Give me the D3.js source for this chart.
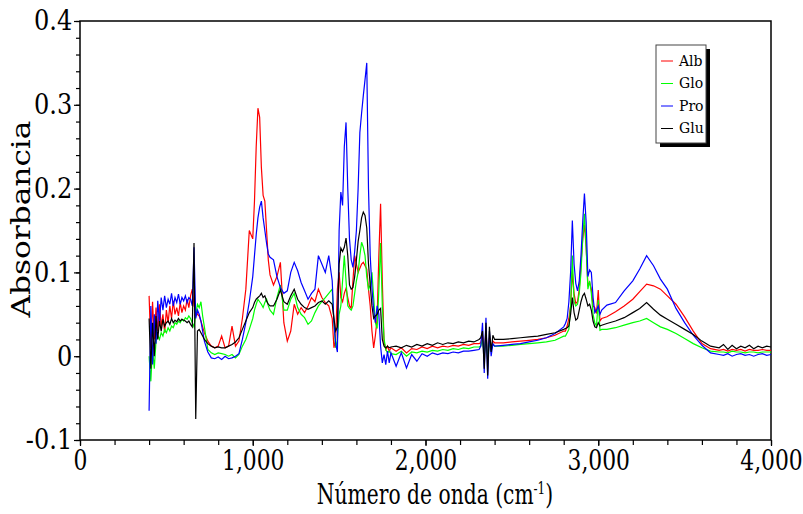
<!DOCTYPE html>
<html>
<head>
<meta charset="utf-8">
<script src="https://cdn.jsdelivr.net/npm/d3@7"></script>
<style>
  body { margin: 0; background: #fff; }
  text { font-family: "DejaVu Serif", serif; }
</style>
</head>
<body>
<svg id="chart"></svg>
<script>
// shared wavenumber grid (cm-1)
const wavenumber = [
  400,410,420,430,440,450,460,470,480,490,500,510,520,530,540,550,560,570,580,590,600,610,620,630,640,650,660,670,680,690,700,710,720,
  740,760,780,800,820,840,860,880,900,920,940,960,980,
  1000,1010,1020,1030,1040,1050,1060,1070,1080,1090,1100,
  1120,1140,1160,1180,1200,1220,1240,1260,1280,1300,1320,1340,1360,1380,1400,1420,1440,1460,
  1470,1480,1490,1500,1510,1520,1530,1540,1550,1560,1570,1580,1590,1600,1610,1620,1630,1640,1650,1660,1670,1680,1690,1700,1710,1720,1730,1740,1750,1760,1770,1780,1790,1800,
  1830,1860,1890,1920,1950,1980,2010,2040,2070,2100,2130,2160,2190,2220,2250,2280,2310,
  2320,2330,2340,2350,2360,2370,2380,2390,2400,
  2450,2500,2550,2600,2650,2700,2750,2800,
  2810,2820,2830,2840,2850,2860,2870,2880,2890,2900,2910,2920,2930,2940,2950,2960,2970,2980,2990,3000,3010,3020,
  3050,3100,3150,3200,3240,3280,3320,3360,3400,3450,3500,3550,3600,3650,3700,
  3725,3750,3775,3800,3825,3850,3875,3900,3925,3950,3975,4000
];

const alb = [
  0.072,0.010,0.065,0.020,0.058,0.030,0.062,0.035,0.050,0.028,0.055,0.040,0.060,0.045,0.066,0.050,0.058,0.048,0.064,0.052,0.060,0.055,0.068,0.058,0.072,0.080,0.060,0.055,0.050,0.048,0.042,0.035,0.028,
  0.018,0.012,0.010,0.012,0.024,0.010,0.012,0.036,0.012,0.018,0.045,0.080,0.150,
  0.140,0.185,0.250,0.296,0.285,0.225,0.192,0.185,0.150,0.115,0.097,
  0.085,0.095,0.112,0.040,0.018,0.030,0.062,0.050,0.058,0.052,0.060,0.070,0.065,0.080,0.070,0.064,0.060,0.045,
  0.010,0.020,0.080,0.100,0.070,0.065,0.075,0.081,0.070,0.060,0.057,0.090,0.120,0.110,0.100,0.105,0.110,0.112,0.108,0.104,0.080,0.060,0.030,0.010,0.025,0.045,0.120,0.182,0.090,0.017,0.008,0.012,0.006,0.010,
  0.006,0.010,0.004,0.009,0.008,0.011,0.009,0.012,0.010,0.012,0.011,0.013,0.012,0.014,0.013,0.015,0.015,
  0.016,0.025,0.000,0.030,-0.005,0.022,0.010,0.018,0.016,
  0.016,0.017,0.018,0.019,0.020,0.022,0.025,0.030,
  0.030,0.036,0.045,0.060,0.100,0.075,0.063,0.065,0.080,0.110,0.140,0.157,0.130,0.085,0.088,0.080,0.060,0.058,0.051,0.079,0.042,0.045,
  0.047,0.053,0.060,0.068,0.077,0.086,0.084,0.080,0.072,0.062,0.047,0.030,0.015,0.009,0.007,
  0.008,0.006,0.008,0.007,0.008,0.006,0.008,0.007,0.007,0.008,0.007,0.007
];

const glo = [
  0.000,-0.030,0.010,-0.015,0.018,0.025,0.020,0.028,0.024,0.032,0.028,0.034,0.030,0.036,0.034,0.040,0.038,0.042,0.040,0.044,0.042,0.046,0.044,0.048,0.045,0.040,0.035,0.050,0.062,0.058,0.065,0.048,0.035,
  0.008,0.004,0.002,0.004,0.003,0.002,0.000,0.002,-0.002,0.002,0.012,0.020,0.032,
  0.045,0.055,0.062,0.068,0.065,0.062,0.058,0.064,0.068,0.060,0.055,
  0.050,0.070,0.085,0.055,0.055,0.068,0.075,0.058,0.050,0.046,0.038,0.042,0.052,0.060,0.065,0.070,0.075,0.080,
  0.040,0.010,0.020,0.050,0.060,0.090,0.120,0.090,0.060,0.057,0.055,0.060,0.075,0.090,0.100,0.120,0.136,0.130,0.120,0.095,0.080,0.085,0.100,0.070,0.040,0.033,0.080,0.135,0.060,0.021,0.008,0.004,0.006,0.003,
  0.002,0.006,0.000,0.005,0.004,0.006,0.005,0.007,0.006,0.008,0.007,0.009,0.008,0.010,0.009,0.011,0.011,
  0.012,0.020,0.000,0.025,-0.005,0.018,0.006,0.014,0.012,
  0.012,0.013,0.014,0.015,0.016,0.017,0.019,0.024,
  0.024,0.028,0.032,0.060,0.120,0.065,0.060,0.062,0.075,0.100,0.140,0.170,0.130,0.080,0.090,0.075,0.050,0.040,0.036,0.067,0.031,0.032,
  0.032,0.034,0.037,0.040,0.042,0.045,0.040,0.035,0.032,0.027,0.021,0.015,0.010,0.006,0.005,
  0.005,0.004,0.006,0.005,0.005,0.004,0.005,0.005,0.004,0.005,0.005,0.005
];

const pro = [
  -0.065,0.060,-0.010,0.050,0.015,0.066,0.040,0.070,0.055,0.072,0.058,0.068,0.062,0.075,0.060,0.070,0.064,0.074,0.062,0.070,0.066,0.072,0.064,0.070,0.068,0.060,0.130,0.045,0.055,0.050,0.042,0.030,0.018,
  0.005,-0.002,-0.003,-0.001,-0.004,0.000,-0.003,-0.002,0.000,0.003,0.020,0.040,0.065,
  0.095,0.120,0.145,0.165,0.178,0.185,0.165,0.150,0.135,0.122,0.118,
  0.115,0.095,0.082,0.075,0.078,0.100,0.112,0.102,0.088,0.078,0.068,0.075,0.080,0.120,0.110,0.100,0.120,0.090,
  0.040,0.015,0.005,0.150,0.196,0.180,0.250,0.279,0.200,0.140,0.115,0.106,0.125,0.150,0.200,0.267,0.290,0.311,0.330,0.350,0.200,0.120,0.081,0.055,0.040,0.060,0.050,0.012,-0.008,0.002,-0.010,0.006,-0.008,0.004,
  -0.012,0.004,-0.014,0.002,-0.006,0.003,0.000,0.004,0.002,0.004,0.003,0.005,0.004,0.006,0.006,0.007,0.008,
  0.012,0.040,-0.020,0.046,-0.027,0.030,0.000,0.015,0.012,
  0.013,0.014,0.015,0.017,0.019,0.022,0.027,0.035,
  0.039,0.045,0.065,0.100,0.162,0.110,0.087,0.078,0.090,0.120,0.160,0.194,0.160,0.095,0.103,0.100,0.070,0.052,0.055,0.060,0.050,0.055,
  0.061,0.064,0.078,0.090,0.104,0.120,0.108,0.092,0.080,0.057,0.040,0.025,0.013,0.004,0.002,
  0.001,0.003,0.000,0.002,0.003,0.001,0.002,0.000,0.002,0.003,0.001,0.002
];

const glu = [
  0.045,-0.015,0.040,0.000,0.048,0.020,0.042,0.030,0.044,0.036,0.040,0.042,0.038,0.045,0.040,0.043,0.041,0.045,0.042,0.044,0.043,0.042,0.040,0.042,0.038,0.035,0.135,-0.075,0.030,0.032,0.028,0.024,0.020,
  0.015,0.012,0.010,0.011,0.010,0.010,0.012,0.014,0.017,0.022,0.032,0.042,0.052,
  0.058,0.064,0.068,0.070,0.072,0.075,0.070,0.072,0.066,0.062,0.060,
  0.060,0.068,0.079,0.065,0.062,0.072,0.080,0.068,0.062,0.058,0.056,0.058,0.060,0.064,0.066,0.062,0.066,0.062,
  0.045,0.030,0.035,0.110,0.129,0.125,0.130,0.141,0.120,0.085,0.080,0.082,0.095,0.115,0.137,0.150,0.165,0.172,0.168,0.153,0.110,0.085,0.060,0.045,0.048,0.050,0.055,0.057,0.020,0.012,0.010,0.012,0.010,0.011,
  0.012,0.010,0.013,0.011,0.014,0.012,0.015,0.013,0.016,0.014,0.016,0.015,0.017,0.016,0.018,0.017,0.020,
  0.022,0.030,-0.015,0.040,-0.023,0.035,0.005,0.025,0.020,
  0.020,0.021,0.022,0.023,0.024,0.026,0.028,0.032,
  0.033,0.034,0.036,0.050,0.070,0.052,0.043,0.045,0.055,0.065,0.072,0.075,0.068,0.060,0.062,0.055,0.042,0.035,0.034,0.040,0.036,0.037,
  0.039,0.042,0.046,0.052,0.057,0.064,0.056,0.049,0.044,0.038,0.032,0.026,0.018,0.012,0.010,
  0.014,0.008,0.013,0.009,0.012,0.010,0.013,0.009,0.012,0.010,0.012,0.011
];

const seriesNames = ["Alb", "Glo", "Pro", "Glu"];
const seriesColors = ["#ff0000", "#00ff00", "#0000ff", "#000000"];
const seriesValues = [alb, glo, pro, glu];

const xTicks = [0, 1000, 2000, 3000, 4000];
const yTicks = [-0.1, 0, 0.1, 0.2, 0.3, 0.4];

const width = 803;
const height = 514;
const margin = {top: 21, right: 32, bottom: 74, left: 80};

const svg = d3.select("#chart")
  .attr("width", width)
  .attr("height", height)
  .attr("viewBox", [0, 0, width, height]);

const x = d3.scaleLinear()
  .domain([0, 4000])
  .range([margin.left, width - margin.right]);

const y = d3.scaleLinear()
  .domain([-0.1, 0.4])
  .range([height - margin.bottom, margin.top]);

// minor ticks
svg.append("g")
  .attr("transform", `translate(0,${height - margin.bottom})`)
  .call(d3.axisBottom(x).tickValues(d3.range(0, 4001, 200)).tickSize(5).tickFormat(""))
  .call(g => g.select(".domain").remove());

svg.append("g")
  .attr("transform", `translate(${margin.left},0)`)
  .call(d3.axisLeft(y).tickValues(d3.range(-5, 21).map(i => i / 50)).tickSize(4).tickFormat(""))
  .call(g => g.select(".domain").remove());

// major ticks + labels (narrow, tall serif digits)
svg.append("g")
  .attr("transform", `translate(0,${height - margin.bottom})`)
  .call(d3.axisBottom(x).tickValues(xTicks).tickSize(6).tickPadding(4).tickFormat(d3.format(",")))
  .call(g => g.select(".domain").remove())
  .call(g => g.selectAll("text")
    .attr("font-size", 28).attr("fill", "#000")
    .attr("font-family", "DejaVu Serif")
    .attr("transform", "scale(0.78,1)"));

svg.append("g")
  .attr("transform", `translate(${margin.left},0)`)
  .call(d3.axisLeft(y).tickValues(yTicks).tickSize(6).tickPadding(3).tickFormat(d => String(d)))
  .call(g => g.select(".domain").remove())
  .call(g => g.selectAll("text")
    .attr("font-size", 28).attr("fill", "#000")
    .attr("font-family", "DejaVu Serif")
    .attr("transform", "scale(0.86,1)"));

svg.selectAll(".tick line").attr("stroke", "#000").attr("stroke-width", 1.2);

// frame
svg.append("rect")
  .attr("x", margin.left)
  .attr("y", margin.top)
  .attr("width", width - margin.left - margin.right)
  .attr("height", height - margin.top - margin.bottom)
  .attr("fill", "none")
  .attr("stroke", "#000")
  .attr("stroke-width", 1.5);

const line = values => d3.line()
  .x((d, i) => x(wavenumber[i]))
  .y(d => y(d))(values);

svg.append("g")
  .selectAll("path")
  .data(seriesValues)
  .join("path")
  .attr("d", d => line(d))
  .attr("fill", "none")
  .attr("stroke", (d, i) => seriesColors[i])
  .attr("stroke-width", 1.2);

// axis titles
svg.append("text")
  .attr("transform", "translate(435,504) scale(0.75,1)")
  .attr("text-anchor", "middle")
  .attr("font-size", 27)
  .text("Número de onda (cm")
  .call(t => t.append("tspan").attr("dy", -10).attr("font-size", 16).text("-1"))
  .call(t => t.append("tspan").attr("dy", 10).text(")"));

svg.append("text")
  .attr("transform", "translate(30,219) rotate(-90) scale(1.2,1)")
  .attr("text-anchor", "middle")
  .attr("font-size", 26)
  .text("Absorbancia");

// legend
const legend = svg.append("g").attr("transform", "translate(656,45)");
legend.append("rect")
  .attr("x", 4).attr("y", 4).attr("width", 50).attr("height", 98)
  .attr("fill", "#000");
legend.append("rect")
  .attr("width", 50).attr("height", 98)
  .attr("fill", "#fff").attr("stroke", "#444").attr("stroke-width", 1);

const entry = legend.selectAll("g.entry")
  .data(seriesNames)
  .join("g")
  .attr("class", "entry")
  .attr("transform", (d, i) => `translate(0,${16 + i * 22.5})`);

entry.append("line")
  .attr("x1", 5).attr("x2", 17)
  .attr("stroke", (d, i) => seriesColors[i])
  .attr("stroke-width", 1);

entry.append("text")
  .attr("x", 23)
  .attr("dy", "0.35em")
  .attr("font-size", 14)
  .text(d => d);
</script>
</body>
</html>
